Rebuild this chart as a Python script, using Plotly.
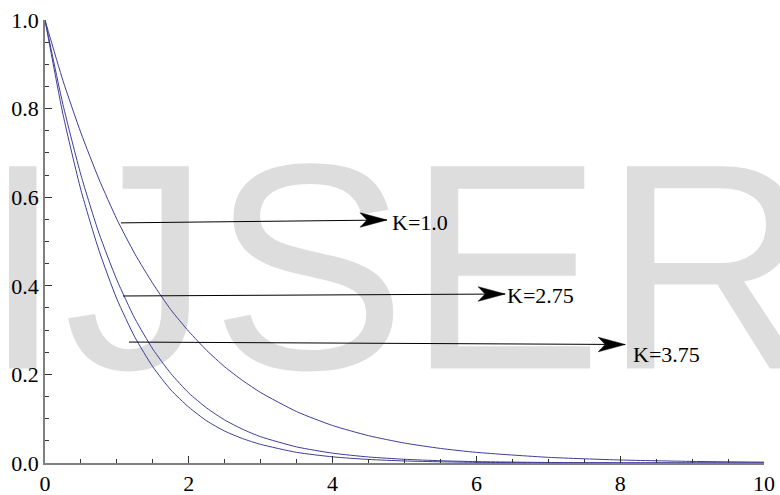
import plotly.graph_objects as go

# ---- data ----
x_vals = [0, 0.25, 0.5, 0.75, 1.0, 1.25, 1.5, 1.75, 2.0, 2.25, 2.5, 2.75, 3.0, 3.5, 4.0, 4.5, 5.0, 5.5, 6.0, 7.0, 8.0, 9.0, 10.0]
y_k1 = [1.0, 0.863, 0.745, 0.641, 0.550, 0.472, 0.405, 0.346, 0.297, 0.254, 0.217, 0.186, 0.159, 0.116, 0.0846, 0.0617, 0.045, 0.0329, 0.024, 0.0128, 0.0068, 0.0036, 0.0019]
y_k275 = [1.0, 0.809, 0.650, 0.519, 0.413, 0.326, 0.257, 0.202, 0.158, 0.124, 0.097, 0.076, 0.0593, 0.0363, 0.0222, 0.0136, 0.0084, 0.0051, 0.0031, 0.0012, 0.00044, 0.00017, 0.00006]
y_k375 = [1.0, 0.787, 0.616, 0.480, 0.370, 0.284, 0.217, 0.165, 0.126, 0.095, 0.072, 0.055, 0.042, 0.024, 0.0139, 0.008, 0.0046, 0.0027, 0.0015, 0.0005, 0.00017, 0.00006, 0.00002]

labels = ["K=1.0", "K=2.75", "K=3.75"]
arrow_x0 = [1.057, 1.085, 1.168]
arrow_y0 = [0.542, 0.377, 0.273]
arrow_x1 = [4.757, 6.40, 8.07]
arrow_y1 = [0.5485, 0.3815, 0.2675]
label_x = [4.81, 6.41, 8.16]
label_y = [0.544, 0.379, 0.246]

x_ticks = [0, 2, 4, 6, 8, 10]
y_ticks = [0.0, 0.2, 0.4, 0.6, 0.8, 1.0]
x_ticktext = ["0", "2", "4", "6", "8", "10"]
y_ticktext = ["0.0", "0.2", "0.4", "0.6", "0.8", "1.0"]

WATERMARK = "IJSER"
WM_X, WM_Y = 4.917, 0.379

LINE_COLOR = "#3d3d99"
SERIF = "Liberation Serif"
SANS = "Liberation Sans"

fig = go.Figure()

# watermark (behind the curves)
fig.add_trace(go.Scatter(
    x=[WM_X], y=[WM_Y], mode="text", text=[WATERMARK],
    textposition="middle center", cliponaxis=False,
    textfont=dict(family=SANS, size=294, color="#dddddd"),
    hoverinfo="skip", showlegend=False))

for ys in (y_k1, y_k275, y_k375):
    fig.add_trace(go.Scatter(
        x=x_vals, y=ys, mode="lines",
        line=dict(color=LINE_COLOR, width=1, shape="spline", smoothing=0.6),
        showlegend=False, hoverinfo="skip"))

shapes = []
annotations = []
for i in range(len(labels)):
    shapes.append(dict(type="line", xref="x", yref="y",
                       x0=arrow_x0[i], y0=arrow_y0[i], x1=arrow_x1[i], y1=arrow_y1[i],
                       line=dict(color="black", width=1)))
    shapes.append(dict(type="path", xref="x", yref="y",
                       xsizemode="pixel", ysizemode="pixel",
                       xanchor=arrow_x1[i], yanchor=arrow_y1[i],
                       path="M0,0 L-27,7.3 L-20,0 L-27,-7.3 Z",
                       fillcolor="black", line=dict(color="black", width=0.5)))
    annotations.append(dict(x=label_x[i], y=label_y[i], xref="x", yref="y",
                            text=labels[i], showarrow=False, xanchor="left", yanchor="middle",
                            borderpad=0, font=dict(family=SERIF, size=22, color="black")))

axis_common = dict(showgrid=False, zeroline=False, showline=True, linecolor="#808080", linewidth=1.5,
                   ticks="inside", ticklen=7, tickwidth=1, tickcolor="#333333",
                   tickfont=dict(family=SERIF, size=22, color="black"), automargin=False)

fig.update_layout(
    width=780, height=495,
    margin=dict(l=45, r=16, t=20, b=32),
    paper_bgcolor="white", plot_bgcolor="white",
    font=dict(family=SERIF),
    shapes=shapes, annotations=annotations,
    xaxis=dict(range=[0, 10], tickvals=x_ticks, ticktext=x_ticktext,
               minor=dict(dtick=0.5, ticks="inside", ticklen=4.5, tickwidth=1, tickcolor="#333333", showgrid=False),
               **axis_common),
    yaxis=dict(range=[0, 1], tickvals=y_ticks, ticktext=y_ticktext,
               minor=dict(dtick=0.05, ticks="inside", ticklen=4.5, tickwidth=1, tickcolor="#333333", showgrid=False),
               **axis_common),
)

fig.write_html("out.html")
